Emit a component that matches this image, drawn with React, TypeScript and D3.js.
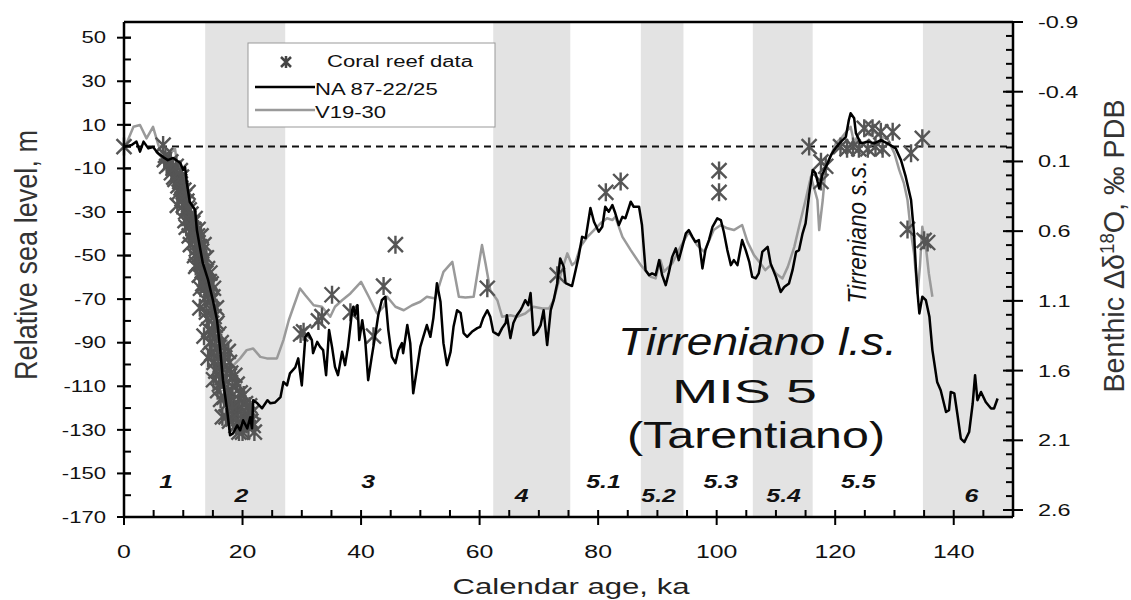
import React from "react";
import * as d3 from "d3";

// ---------- data ----------
const bands: [number, number][] = [[13.7, 27.2], [62.3, 75.3], [87.2, 94.4], [106.1, 116.2], [134.8, 150]];

const misLabels = ["1", "2", "3", "4", "5.1", "5.2", "5.3", "5.4", "5.5", "6"];
const misAges = [7.1, 19.8, 41.2, 67.1, 80.9, 90.2, 100.7, 111.3, 123.9, 143.0];
const misRow = [0, 1, 0, 1, 0, 1, 0, 1, 0, 1];

const leftTicks = [50, 30, 10, -10, -30, -50, -70, -90, -110, -130, -150, -170];
const rightTicks = [-0.9, -0.4, 0.1, 0.6, 1.1, 1.6, 2.1, 2.6];
const rightTickLabels = ["-0.9", "-0.4", "0.1", "0.6", "1.1", "1.6", "2.1", "2.6"];
const xTicks = [0, 20, 40, 60, 80, 100, 120, 140];

const naSeries: [number, number][] = [
  [0, 0], [1.3, 0.7], [2.1, 2.3], [2.7, -2.3], [3.3, 2.3], [4.1, -0.8], [4.9, -0.2], [5.7, -2.9],
  [6.6, -4.8], [7.4, -6.2], [8.3, -5.2], [9.5, -7.5], [10.0, -10.7], [10.3, -9.4], [10.6, -16.7],
  [11.1, -25.4], [12.0, -29.1], [12.3, -38.3], [12.8, -46.1], [13.3, -53.5], [14.2, -61.3], [15.0, -70.5],
  [15.7, -79.7], [16.2, -92.1], [16.7, -107.2], [17.4, -121], [17.9, -132.5], [18.4, -131.6], [19.1, -127.9],
  [19.6, -130.2], [20.1, -125.6], [20.8, -129.3], [21.3, -124.2], [21.6, -129.3], [21.8, -116.4], [22.5, -117.8],
  [23.3, -120.1], [24.2, -116.4], [24.7, -117.8], [25.5, -117.4], [26.4, -115], [26.9, -108], [27.5, -109.6],
  [28.0, -104.1], [28.9, -101.3], [29.4, -97.2], [30.0, -109.6], [30.6, -87.3], [31.1, -85.6], [31.7, -88.8],
  [31.9, -94.8], [32.6, -89.6], [33.1, -91.9], [33.6, -93.4], [34.1, -104.9], [34.6, -84.2], [35.1, -91.9],
  [35.6, -101.1], [36.1, -104.9], [36.8, -94.2], [37.3, -100.3], [37.8, -91.9], [38.5, -75.1], [38.7, -73.5],
  [39.0, -77.4], [39.4, -72.8], [39.7, -88.8], [40.2, -79.7], [40.7, -88.8], [41.2, -107.2], [41.8, -96.5],
  [42.4, -86.5], [42.9, -77.4], [43.5, -70.5], [44.1, -68.9], [44.6, -84.2], [45.2, -96.5], [45.8, -99.4],
  [46.3, -93.4], [46.9, -90.2], [47.1, -94.8], [47.8, -81.9], [48.3, -90.2], [48.8, -113.2], [49.4, -102.6],
  [50.0, -91.9], [50.5, -87.3], [51.1, -81.9], [51.7, -87.3], [52.2, -78.7], [52.8, -62.7], [53.4, -71.2],
  [53.9, -90.2], [54.5, -100.3], [55.1, -94.2], [55.6, -82.7], [56.2, -75.1], [56.8, -76.4], [57.3, -85.6],
  [57.9, -87.3], [58.7, -85.0], [59.6, -83.3], [60.1, -82.7], [60.6, -78.7], [61.3, -75.1], [61.8, -78.1],
  [62.3, -85.0], [63.2, -86.5], [63.8, -83.3], [64.4, -81.0], [64.6, -77.4], [65.2, -87.9], [65.7, -81.0],
  [66.3, -77.4], [66.9, -75.1], [67.2, -73.5], [67.7, -70.5], [68.2, -72.8], [68.6, -67.2], [69.1, -86.5],
  [69.7, -85.0], [70.3, -81.9], [70.8, -75.1], [71.4, -91.1], [72.0, -75.1], [72.5, -70.5], [73.1, -62.7],
  [73.6, -51.3], [74.2, -55.2], [74.5, -62.7], [75.6, -64.0], [76.2, -56.7], [76.7, -50.6], [77.3, -41.4],
  [77.9, -42.0], [78.7, -28.2], [79.3, -34.5], [80.1, -39.1], [80.7, -36.8], [81.2, -27.6], [81.8, -29.9],
  [82.4, -26.8], [82.9, -30.6], [83.5, -36.0], [84.1, -32.2], [84.6, -32.9], [85.5, -25.3], [86.0, -27.6],
  [86.9, -27.6], [87.4, -36.0], [88.0, -56.7], [88.6, -59.0], [89.1, -58.2], [89.7, -59.0], [90.3, -52.1],
  [90.8, -59.0], [91.4, -63.6], [91.9, -58.2], [92.5, -50.6], [93.1, -46.7], [93.6, -52.1], [94.2, -46.0],
  [94.8, -39.8], [95.3, -38.3], [95.9, -41.4], [96.4, -43.7], [97.0, -42.9], [97.6, -55.9], [98.1, -47.5],
  [98.7, -42.9], [99.3, -36.8], [100.1, -32.9], [100.7, -33.7], [101.2, -39.1], [101.8, -47.5], [102.4, -54.4],
  [102.9, -52.1], [103.5, -54.4], [104.3, -42.9], [104.9, -47.5], [105.5, -52.9], [106.0, -59.8], [106.6, -60.5],
  [107.1, -58.2], [107.7, -48.3], [108.6, -46.0], [109.1, -53.6], [110.0, -59.8], [110.8, -66.7], [111.4, -64.4],
  [112.2, -62.8], [112.8, -56.7], [113.4, -48.3], [113.9, -47.5], [114.5, -39.8], [115.0, -35.2], [115.6, -22.2],
  [116.2, -10.7], [116.7, -12.3], [117.3, -19.2], [117.9, -12.3], [118.7, -7.7], [119.3, -3.9], [119.8, -1.6],
  [120.7, 1.5], [121.8, 4.5], [122.3, 12.2], [122.6, 15.3], [123.2, 13], [123.5, 6.1], [124.3, 1.5],
  [125.5, 2.3], [126.6, 1.5], [127.7, 3.0], [128.8, 1.5], [129.7, 0], [130.2, -0.8], [131.1, -6.2],
  [131.9, -13.8], [132.8, -24.5], [133.3, -39.8], [133.6, -55.2], [133.9, -67.4], [134.2, -76.6], [134.7, -68.9],
  [135.3, -70.5], [135.9, -78.1], [136.4, -93.4], [137.2, -108], [137.8, -111.8], [138.7, -121.8], [139.2, -121],
  [139.5, -112.6], [140.1, -113.3], [140.6, -122.5], [141.2, -134], [141.8, -135.6], [142.6, -131], [143.2, -117.9],
  [143.6, -104.9], [144.0, -116.4], [144.6, -112.6], [145.4, -117.2], [146.3, -120.2], [146.8, -120.2], [147.4, -115.6],
];

const v19Series: [number, number][] = [
  [0.2, 0], [1.6, 9.1], [2.7, 9.9], [3.8, 3.8], [4.9, 9.1], [5.8, 0.7], [6.6, -4.6], [7.8, -3.1], [8.6, -0.8],
  [9.2, -12.3], [9.5, -23.0], [10.6, -29.1], [11.1, -32.2], [11.7, -39.8], [12.8, -52.1], [14.0, -61.3],
  [15.1, -73.5], [15.9, -85.8], [16.8, -90.4], [17.3, -88.8], [18.2, -101.1], [19.6, -97.2], [20.7, -93.4],
  [21.8, -92.7], [23.0, -96.5], [24.1, -97.2], [25.8, -97.2], [26.9, -88.8], [27.8, -79.7], [28.6, -73.5],
  [29.7, -65.1], [30.6, -68.2], [32.0, -72.8], [33.4, -73.5], [34.8, -78.1], [35.6, -73.5], [36.8, -70.5],
  [38.2, -67.4], [40.0, -62.1], [41.3, -68.9], [42.7, -76.6], [43.8, -73.5], [44.4, -68.9], [45.8, -73.5],
  [47.2, -75.1], [48.6, -72.8], [50.0, -71.2], [51.1, -68.9], [52.5, -69.7], [53.9, -57.5], [55.4, -52.9],
  [56.5, -68.9], [57.6, -69.2], [59.0, -68.9], [60.4, -45.2], [61.0, -53.6], [61.8, -65.9], [63.0, -70.5],
  [63.8, -78.1], [65.2, -77.4], [66.3, -78.1], [67.7, -76.6], [69.1, -73.5], [70.6, -74.3], [71.7, -74.3],
  [72.5, -70.5], [73.1, -64.4], [73.9, -56.7], [74.8, -49.0], [75.6, -54.4], [76.2, -52.9], [77.0, -46.0],
  [78.2, -41.4], [79.3, -38.3], [80.4, -35.2], [81.5, -32.9], [82.4, -33.7], [82.9, -32.2], [84.1, -41.4],
  [85.5, -47.5], [87.2, -54.4], [88.9, -59.8], [89.7, -60.5], [90.5, -52.1], [91.1, -57.5], [92.5, -53.6],
  [93.9, -46.0], [95.3, -39.1], [96.7, -45.2], [97.9, -48.3], [99.5, -38.3], [100.7, -36.0], [101.8, -37.5],
  [102.9, -38.3], [104.3, -36.0], [105.2, -43.7], [106.3, -49.8], [107.4, -53.6], [108.2, -56.7], [109.1, -54.4],
  [110.0, -58.2], [111.1, -60.5], [112.0, -55.2], [113.1, -46.0], [113.9, -36.8], [115.0, -24.5], [115.9, -13.8],
  [117.0, -24.5], [117.3, -38.3], [117.9, -24.5], [118.4, -9.2], [119.3, -3.9], [120.1, 1.5], [121.2, 4.5],
  [122.1, 7.6], [122.6, 9.1], [123.2, 1.5], [124.0, 6.1], [125.1, 9.1], [125.7, 5.3], [126.6, 6.8], [127.7, 4.5],
  [128.8, 3.8], [130.0, -3.1], [130.8, -10.7], [131.6, -16.9], [132.2, -24.5], [132.8, -39.8], [133.3, -49.0],
  [133.9, -67.4], [134.3, -55.0], [134.7, -36.8], [135.3, -46.0], [135.8, -58.2], [136.4, -68.9],
];

const coralSeries: [number, number][] = [
  [0, 0], [6.6, 0.7], [6.8, -6], [7.2, -9], [7.6, -8], [8.0, -12], [8.3, -10], [8.6, -15], [8.9, -13], [9.1, -18],
  [9.3, -21], [9.6, -19], [9.8, -24], [10.0, -27], [10.2, -23], [10.4, -30], [10.7, -28], [10.9, -33], [11.1, -36],
  [11.3, -31], [11.5, -40], [11.8, -38], [12.0, -43], [12.2, -47], [12.4, -41], [12.6, -50], [12.8, -46], [13.0, -54],
  [13.2, -57], [13.4, -52], [13.6, -61], [13.8, -58], [14.0, -64], [14.2, -68], [14.4, -62], [14.6, -71], [14.8, -75],
  [15.0, -69], [15.2, -78], [15.4, -82], [14.9, -85], [15.3, -88], [15.6, -92], [14.8, -95], [15.2, -99], [15.9, -97],
  [16.2, -103], [16.6, -106], [17.0, -109], [17.3, -104], [17.6, -112], [18.0, -115], [18.3, -110], [18.6, -118],
  [19.0, -121], [19.4, -116], [19.8, -120], [20.2, -124], [19.2, -127], [18.4, -125], [20.6, -127], [21.0, -129],
  [21.4, -126], [20.0, -131], [21.8, -128], [19.6, -113], [17.8, -99], [16.4, -90], [12.9, -65], [11.2, -45],
  [10.5, -37], [9.0, -27], [16.6, -124], [13.9, -76], [12.1, -55],
  [7.0, -4], [7.9, -7], [8.4, -14], [8.8, -9], [9.4, -16], [9.7, -14], [10.1, -20], [10.6, -25], [10.3, -34],
  [11.0, -29], [11.6, -35], [11.0, -41], [11.9, -50], [12.5, -38], [12.3, -54], [13.1, -48], [12.7, -59],
  [13.5, -45], [13.3, -63], [14.1, -56], [13.6, -70], [14.5, -58], [14.0, -79], [15.1, -65], [14.3, -84],
  [15.6, -74], [14.5, -90], [16.0, -86], [14.2, -97], [15.5, -103], [16.1, -109], [16.8, -99], [15.8, -112],
  [16.9, -115], [17.4, -118], [18.2, -121], [17.2, -124], [18.9, -128], [19.8, -125], [20.9, -123], [21.6, -122],
  [22.0, -131], [20.5, -118], [19.1, -109], [18.7, -105], [17.6, -94], [16.9, -92], [10.8, -21], [9.5, -11],
  [12.0, -33], [13.0, -41], [13.9, -51], [14.7, -63], [15.7, -81], [17.0, -97], [18.0, -104], [20.2, -114],
  [21.2, -119], [19.4, -131], [17.8, -126], [16.3, -116], [15.1, -107], [13.5, -87], [12.8, -74],
  [29.8, -86], [30.3, -85], [32.8, -80], [33.4, -78], [35.1, -68], [38.2, -76], [42.1, -87], [43.8, -64], [45.8, -45],
  [61.3, -65], [73.1, -59], [81.3, -21], [83.8, -16], [100.4, -11], [100.4, -21],
  [115.6, 0], [117.6, -7], [118.4, -9], [117.6, -16], [120.9, 0], [122.0, -1], [123.0, 0], [124.0, -1], [124.9, 8.4],
  [126.3, 8.4], [127.7, 6.8], [129.7, 6.8], [125.5, -1], [126.8, 0], [128.0, -1], [132.8, -3], [134.7, 3.8],
  [132.2, -38], [135.0, -43], [135.6, -44],
];

// ---------- layout ----------
const W = 1131, H = 600;
const L = 124, R = 1013, TOP = 22, BOT = 517;
const SX = 1.38;
const FONT = "'Liberation Sans', Arial, Helvetica, sans-serif";

const x = d3.scaleLinear().domain([0, 150]).range([L, R]);
const y = d3.scaleLinear().domain([-170, 57.2]).range([BOT, TOP]);
const yR = d3.scaleLinear().domain([-0.9, 2.65]).range([TOP, BOT]);

const line = d3.line<[number, number]>().x(d => x(d[0])).y(d => y(d[1]));

function Txt(props: any) {
  const { x: tx, y: ty, sx = SX, anchor = "start", size = 16, children, ...rest } = props;
  return (
    <text transform={`translate(${tx},${ty}) scale(${sx},1)`} textAnchor={anchor} fontSize={size} fontFamily={FONT} {...rest}>
      {children}
    </text>
  );
}

function Star({ cx, cy, r = 7.5, color = "#555", sw = 2.4 }: any) {
  const d = `M${cx - r},${cy - r}L${cx + r},${cy + r}M${cx - r},${cy + r}L${cx + r},${cy - r}M${cx},${cy - r * 1.2}L${cx},${cy + r * 1.2}`;
  return <path d={d} stroke={color} strokeWidth={sw} fill="none" />;
}

export default function App() {
  const leftMinor = d3.range(-170, 57, 10);
  const rightMinor = d3.range(0, 36).map(i => -0.9 + i * 0.1);
  const xMinor = d3.range(0, 151, 5);
  return (
    <svg width={W} height={H} style={{ display: "block", position: "absolute", left: 0, top: 0, background: "#fff" }}>
      <rect x={0} y={0} width={W} height={H} fill="#fff" />
      {bands.map((b, i) => (
        <rect key={i} x={x(b[0])} y={TOP} width={x(b[1]) - x(b[0])} height={BOT - TOP} fill="#e3e3e3" />
      ))}
      <line x1={L} x2={R} y1={y(0)} y2={y(0)} stroke="#111" strokeWidth={2} strokeDasharray="7,5" />

      {/* big labels */}
      <Txt x={618} y={355} sx={1} size={39} fontStyle="italic" textLength={279} lengthAdjust="spacingAndGlyphs" fill="#111">Tirreniano l.s.</Txt>
      <Txt x={672} y={403} sx={1} size={34} textLength={145} lengthAdjust="spacingAndGlyphs" fill="#111">MIS 5</Txt>
      <Txt x={627} y={448} sx={1} size={37} textLength={258} lengthAdjust="spacingAndGlyphs" fill="#111">(Tarentiano)</Txt>
      <text transform={`translate(866,232) scale(1.38,1) rotate(-90)`} textAnchor="middle" fontSize={19} fontStyle="italic" fontFamily={FONT} textLength={143} lengthAdjust="spacingAndGlyphs" fill="#111">Tirreniano s.s.</text>

      {misLabels.map((m, i) => (
        <Txt key={m} x={x(misAges[i])} y={misRow[i] ? 501.5 : 487.5} anchor="middle" size={18} fontWeight="bold" fontStyle="italic" fill="#111">{m}</Txt>
      ))}

      <path d={line(v19Series) || ""} fill="none" stroke="#9a9a9a" strokeWidth={2.5} strokeLinejoin="round" />
      {coralSeries.map((c, i) => <Star key={i} cx={x(c[0])} cy={y(c[1])} />)}
      <path d={line(naSeries) || ""} fill="none" stroke="#000" strokeWidth={2.5} strokeLinejoin="round" />

      {/* frame */}
      <line x1={L} x2={R} y1={TOP} y2={TOP} stroke="#000" strokeWidth={2.5} />
      <line x1={L} x2={L} y1={TOP} y2={BOT} stroke="#000" strokeWidth={2.5} />
      <line x1={R} x2={R} y1={TOP} y2={BOT} stroke="#000" strokeWidth={2.5} />
      <line x1={L} x2={R} y1={BOT} y2={BOT} stroke="#000" strokeWidth={2.5} />

      {/* left axis */}
      {leftMinor.map(v => <line key={"lm" + v} x1={L} x2={L + 7} y1={y(v)} y2={y(v)} stroke="#000" strokeWidth={2} />)}
      {leftTicks.map(v => (
        <g key={"lt" + v}>
          <line x1={L - 7} x2={L + 7} y1={y(v)} y2={y(v)} stroke="#000" strokeWidth={2} />
          <Txt x={106} y={y(v) + 5.7} anchor="end" size={16} fill="#111">{String(v)}</Txt>
        </g>
      ))}
      {/* right axis */}
      {rightMinor.map((v, i) => <line key={"rm" + i} x1={R - 7} x2={R} y1={yR(v)} y2={yR(v)} stroke="#000" strokeWidth={2} />)}
      {rightTicks.map((v, i) => (
        <g key={"rt" + i}>
          <line x1={R - 10} x2={R + 10} y1={yR(v)} y2={yR(v)} stroke="#000" strokeWidth={2} />
          <Txt x={1038} y={yR(v) + 6} size={17} fill="#111">{rightTickLabels[i]}</Txt>
        </g>
      ))}
      {/* bottom axis */}
      {xMinor.map(v => <line key={"xm" + v} x1={x(v)} x2={x(v)} y1={BOT} y2={BOT - 7} stroke="#000" strokeWidth={2} />)}
      {xTicks.map(v => (
        <g key={"xt" + v}>
          <line x1={x(v)} x2={x(v)} y1={BOT} y2={BOT + 8} stroke="#000" strokeWidth={2} />
          <Txt x={x(v)} y={558} anchor="middle" size={18} fill="#111">{String(v)}</Txt>
        </g>
      ))}

      {/* axis titles */}
      <Txt x={571} y={594} anchor="middle" sx={1} size={22} textLength={237} lengthAdjust="spacingAndGlyphs" fill="#222">Calendar age, ka</Txt>
      <text transform={`translate(37,255) scale(1.38,1) rotate(-90)`} textAnchor="middle" fontSize={23} fontFamily={FONT} textLength={250} lengthAdjust="spacingAndGlyphs" fill="#333">Relative sea level, m</text>
      <text transform={`translate(1124,246) scale(1.3,1) rotate(-90)`} textAnchor="middle" fontSize={23} fontFamily={FONT} textLength={293} lengthAdjust="spacingAndGlyphs" fill="#333">
        Benthic Δδ<tspan dy={-8} fontSize={15}>18</tspan><tspan dy={8}>O, ‰ PDB</tspan>
      </text>

      {/* legend */}
      <rect x={248} y={43} width={247} height={84} fill="#fff" stroke="#999" strokeWidth={1} />
      <Star cx={286} cy={62} r={5} color="#444" sw={2.5} />
      <Txt x={327} y={67} size={16} fill="#111">Coral reef data</Txt>
      <line x1={255} x2={315} y1={87} y2={87} stroke="#000" strokeWidth={2.5} />
      <Txt x={315} y={95} size={16} fill="#111">NA 87-22/25</Txt>
      <line x1={255} x2={315} y1={110} y2={110} stroke="#9a9a9a" strokeWidth={2.5} />
      <Txt x={315} y={118} size={16} fill="#111">V19-30</Txt>
    </svg>
  );
}
